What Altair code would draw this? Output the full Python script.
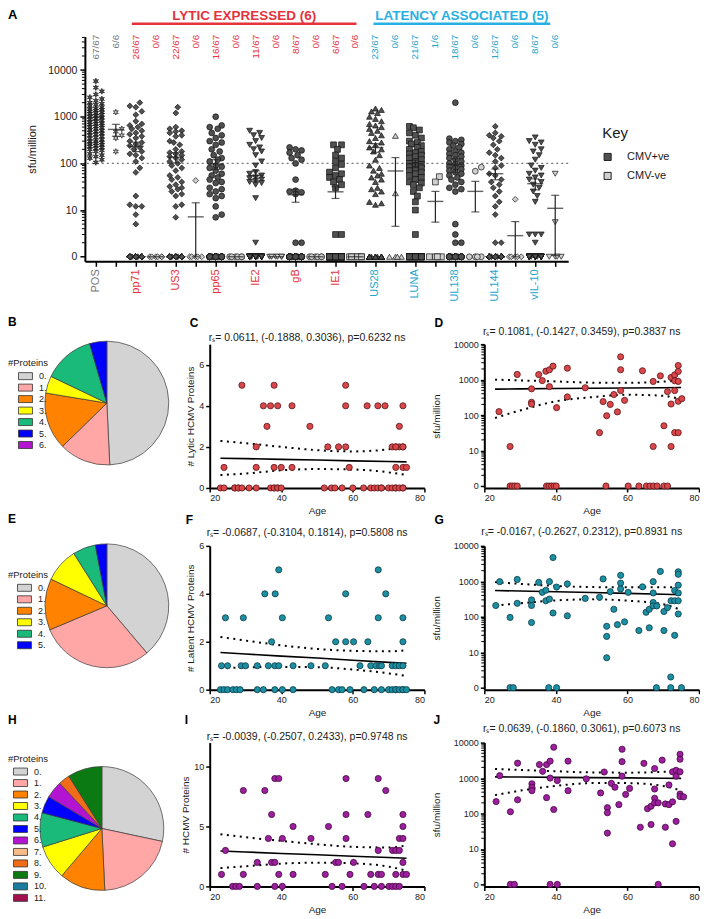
import math
import numpy as np
import pandas as pd
import altair as alt

FONT = "Liberation Sans"
INK = "#1a1a1a"
RED = "#e5323b"
CYAN = "#1ea6cc"
CYAN_HEAD = "#27b0e2"
GREY_LAB = "#777777"

# ---------------- Panel A : responses per antigen ----------------
ANTIGENS = ["POS", "pp71", "US3", "pp65", "IE2", "gB", "IE1", "US28", "LUNA", "UL138", "UL144", "vIL-10"]
ANTIGEN_COLOR = [GREY_LAB] + [RED] * 6 + [CYAN] * 5
RATIO_CMV_POS = ["67/67", "26/67", "22/67", "16/67", "11/67", "8/67", "6/67", "23/67", "21/67", "18/67", "12/67", "8/67"]
RATIO_CMV_NEG = ["6/6", "0/6", "0/6", "0/6", "0/6", "0/6", "0/6", "0/6", "1/6", "0/6", "0/6", "0/6"]

# non-zero responses (sfu/million), CMV+ve donors
POS_P = [5800, 4200, 3500, 3000, 2600, 2400, 2200, 2000, 1900, 1800, 1700, 1600, 1500, 1450, 1400, 1350,
         1300, 1250, 1200, 1150, 1100, 1050, 1000, 950, 900, 870, 840, 800, 760, 720, 700, 680, 650, 620,
         600, 580, 550, 520, 500, 480, 460, 440, 420, 400, 380, 360, 340, 320, 300, 290, 280, 270, 260,
         250, 240, 230, 220, 210, 200, 190, 180, 160, 150, 140, 130, 120, 105]
PP71_P = [2000, 1700, 1600, 1300, 1100, 800, 700, 650, 600, 550, 500, 450, 420, 380, 350, 300, 280, 260,
          240, 220, 200, 180, 160, 150, 130, 110, 80, 64, 20, 13, 12, 12, 8, 5]
US3_P = [1600, 1200, 600, 550, 500, 480, 450, 400, 380, 300, 280, 250, 200, 180, 170, 160, 150, 140, 130,
         120, 110, 100, 90, 80, 70, 55, 50, 45, 40, 35, 32, 30, 28, 25, 22, 20, 13, 12, 7]
PP65_P = [1000, 650, 600, 550, 450, 400, 350, 300, 280, 250, 200, 180, 150, 130, 120, 110, 90, 85, 80, 70,
          60, 55, 50, 45, 40, 38, 30, 28, 25, 22, 20, 18, 12, 8, 7]
IE2_P = [500, 450, 400, 350, 300, 250, 220, 200, 180, 150, 110, 90, 65, 60, 55, 50, 48, 45, 42, 40, 38, 35, 18, 2]
GB_P = [220, 200, 190, 170, 150, 130, 120, 100, 45, 26, 25, 24, 22, 2, 2]
IE1_P = [250, 250, 200, 150, 130, 110, 95, 80, 65, 60, 55, 50, 45, 40, 35, 30, 3, 3]
US28_P = [1500, 1400, 1300, 1200, 1000, 900, 800, 700, 650, 600, 550, 500, 450, 400, 350, 300, 280, 250,
          220, 200, 180, 150, 120, 90, 80, 70, 60, 55, 50, 45, 40, 30, 28, 25, 22, 15, 14, 13]
LUNA_P = [620, 580, 520, 450, 400, 350, 300, 280, 260, 240, 220, 200, 180, 170, 160, 150, 140, 130, 120,
          110, 100, 95, 90, 85, 80, 75, 70, 65, 60, 55, 50, 45, 40, 38, 35, 30, 25, 20, 15, 10, 3]
UL138_P = [2000, 340, 320, 300, 280, 260, 240, 220, 200, 180, 170, 160, 150, 140, 130, 120, 110, 100, 95,
           90, 85, 80, 75, 70, 65, 60, 55, 50, 45, 40, 35, 30, 28, 25, 5, 3, 2, 2]
UL144_P = [620, 450, 400, 380, 350, 300, 250, 200, 170, 150, 130, 110, 90, 80, 60, 55, 45, 40, 35, 30, 25,
           20, 15, 12, 8, 2, 2]
VIL10_P = [360, 300, 280, 250, 200, 180, 150, 120, 90, 80, 70, 60, 55, 50, 45, 40, 35, 30, 25, 20, 15, 3, 3, 3, 2]
ZEROS_P = [0, 33, 28, 32, 43, 52, 49, 29, 26, 29, 40, 42]

# non-zero responses, CMV-ve donors
POS_N = [1250, 550, 480, 400, 350, 180]
PP71_N, US3_N, PP65_N, IE2_N, GB_N, IE1_N = [], [43], [], [], [], []
US28_N, LUNA_N, UL138_N, UL144_N, VIL10_N = [390, 23], [52, 40], [83, 68], [17], [60, 5.5]
ZEROS_N = [0, 6, 5, 6, 6, 6, 6, 4, 4, 4, 5, 4]

HEADERS = ["LYTIC EXPRESSED (6)", "LATENCY ASSOCIATED (5)"]
HEADER_FROM = [1.8, 13.9]
HEADER_TO = [13.05, 22.75]
HEADER_COLOR = [RED, CYAN_HEAD]

NONZERO_P = [POS_P, PP71_P, US3_P, PP65_P, IE2_P, GB_P, IE1_P, US28_P, LUNA_P, UL138_P, UL144_P, VIL10_P]
NONZERO_N = [POS_N, PP71_N, US3_N, PP65_N, IE2_N, GB_N, IE1_N, US28_N, LUNA_N, UL138_N, UL144_N, VIL10_N]


def star_path(n=6, r_in=0.42):
    pts = []
    for i in range(2 * n):
        r = 1.0 if i % 2 == 0 else r_in
        a = math.pi * i / n - math.pi / 2
        pts.append(f"{r * math.cos(a):.3f},{r * math.sin(a):.3f}")
    return "M" + "L".join(pts) + "Z"


SHAPES = [star_path(), "diamond", "diamond", "circle", "triangle-down", "circle", "square",
          "triangle-up", "square", "circle", "diamond", "triangle-down"]


def swarm(vals, px_dec=47.0, px_unit=20.0, d=6.0, step=0.1, nmax=3):
    ys = [math.log10(v) * px_dec for v in vals]
    order = sorted(range(len(ys)), key=lambda i: ys[i])
    cand = [0.0]
    for j in range(1, nmax + 1):
        cand += [j * step, -j * step]
    placed, offs = [], [0.0] * len(ys)
    for i in order:
        y = ys[i]
        best, best_cost, best_c = None, None, 0.0
        for c in cand:
            cost = 0.0
            for py, po in placed:
                dy = y - py
                if abs(dy) >= d:
                    continue
                dist = math.hypot((c - po) * px_unit, dy)
                if dist < d:
                    cost += d - dist
            if cost == 0:
                best = c
                break
            if best_cost is None or cost < best_cost:
                best_cost, best_c = cost, c
        if best is None:
            best = best_c
        offs[i] = best
        placed.append((y, best))
    return offs


pts_rows, stat_rows, lab_rows, ratio_rows = [], [], [], []
for k, name in enumerate(ANTIGENS):
    for j, (vals, nz, grp, ratio) in enumerate(((NONZERO_P[k], ZEROS_P[k], "CMV+ve", RATIO_CMV_POS[k]),
                                               (NONZERO_N[k], ZEROS_N[k], "CMV-ve", RATIO_CMV_NEG[k]))):
        idx = 2 * k + j
        allv = list(vals) + [0.0] * nz
        yv = [max(v, 1.0) for v in allv]
        for v, o in zip(yv, swarm(yv)):
            pts_rows.append({"x": idx + o, "y": v, "grp": grp, "shape": SHAPES[k]})
        arr = np.array(allv, float)
        m = arr.mean()
        se = arr.std(ddof=1) / math.sqrt(len(arr))
        stat_rows.append({"x": idx, "m": max(m, 1.0), "lo": max(m - se, 1.0), "hi": max(m + se, 1.0), "has": bool(se > 0)})
        ratio_rows.append({"x": idx, "t": ratio, "c": ANTIGEN_COLOR[k]})
    lab_rows.append({"x": 2 * k, "t": name, "c": ANTIGEN_COLOR[k]})

dfA = pd.DataFrame(pts_rows)
dfStat = pd.DataFrame(stat_rows)
dfStatBars = dfStat[dfStat["has"]]
dfLab = pd.DataFrame(lab_rows)
dfRatio = pd.DataFrame(ratio_rows)
dfHead = pd.DataFrame({"x1": HEADER_FROM, "x2": HEADER_TO,
                       "xc": [(a + b) / 2 for a, b in zip(HEADER_FROM, HEADER_TO)],
                       "t": HEADERS, "c": HEADER_COLOR})
dfThr = pd.DataFrame({"y": [100]})
MINOR_A = [k * 10 ** e for e in range(0, 5) for k in range(2, 10) if k * 10 ** e <= 52000]

WA, HA = 484, 225
xA = alt.Scale(domain=[-0.55, 23.65], nice=False, zero=False)
yA = alt.Scale(type="log", domain=[0.8, 52000], nice=False)
AXA_X = alt.Axis(values=list(range(24)), labels=False, title=None, tickSize=5, grid=False)
AXA_Y = alt.Axis(values=[1, 10, 100, 1000, 10000],
                 labelExpr="datum.value == 1 ? '0' : format(datum.value, 'd')",
                 title="sfu/million", titlePadding=10, labelFontSize=10.5, titleFontSize=11,
                 tickSize=5, labelPadding=3, grid=False)


def XA(f):
    return alt.X(f"{f}:Q", scale=xA, axis=AXA_X)


def YA(f):
    return alt.Y(f"{f}:Q", scale=yA, axis=AXA_Y)


a_thr = alt.Chart(dfThr).mark_rule(color="#777777", strokeWidth=1.3, strokeDash=[2, 3]).encode(y=YA("y"))
a_minor = alt.Chart(pd.DataFrame({"y": MINOR_A})).mark_rule(color="black", strokeWidth=1).encode(
    y=YA("y"), x=alt.value(-3), x2=alt.value(0))
a_pts = alt.Chart(dfA).mark_point(filled=True, size=34, stroke="#111111", strokeWidth=0.7, opacity=1).encode(
    x=XA("x"), y=YA("y"),
    shape=alt.Shape("shape:N", scale=None),
    fill=alt.Fill("grp:N", scale=alt.Scale(domain=["CMV+ve", "CMV-ve"], range=["#505050", "#cfcfcf"]),
                  legend=alt.Legend(title="Key", orient="none", legendX=518, legendY=90,
                                    symbolType="square", symbolSize=50, symbolStrokeColor="#222222",
                                    symbolStrokeWidth=1, titleFontSize=15, titleFontWeight="normal",
                                    titleColor=INK, labelFontSize=11, labelColor=INK, titlePadding=10,
                                    rowPadding=6, labelOffset=14, padding=0)))
a_mean = alt.Chart(dfStat).mark_tick(orient="horizontal", size=16, thickness=1.4, color="#222222").encode(
    x=XA("x"), y=YA("m"))
a_bar = alt.Chart(dfStatBars).mark_rule(color="#222222", strokeWidth=1.2).encode(
    x=XA("x"), y=YA("lo"), y2=alt.Y2("hi"))
a_cap_lo = alt.Chart(dfStatBars).mark_tick(orient="horizontal", size=8, thickness=1.2, color="#222222").encode(
    x=XA("x"), y=YA("lo"))
a_cap_hi = alt.Chart(dfStatBars).mark_tick(orient="horizontal", size=8, thickness=1.2, color="#222222").encode(
    x=XA("x"), y=YA("hi"))
a_lab = alt.Chart(dfLab).mark_text(angle=270, align="right", baseline="middle", fontSize=11).encode(
    x=XA("x"), y=alt.value(HA + 8), text="t:N", color=alt.Color("c:N", scale=None))
a_ratio = alt.Chart(dfRatio).mark_text(angle=270, align="right", baseline="middle", fontSize=10).encode(
    x=XA("x"), y=alt.value(-2), text="t:N", color=alt.Color("c:N", scale=None))
a_hrule = alt.Chart(dfHead).mark_rule(strokeWidth=2.5).encode(
    x=XA("x1"), x2=alt.X2("x2"), y=alt.value(-13), color=alt.Color("c:N", scale=None))
a_htext = alt.Chart(dfHead).mark_text(fontSize=13.5, fontWeight="bold", baseline="middle").encode(
    x=XA("xc"), y=alt.value(-21), text="t:N", color=alt.Color("c:N", scale=None))

rowA = alt.layer(a_thr, a_minor, a_pts, a_bar, a_cap_lo, a_cap_hi, a_mean, a_lab, a_ratio, a_hrule, a_htext).properties(
    width=WA, height=HA,
    title=alt.TitleParams("A", anchor="start", frame="group", dx=-77, dy=13, offset=0,
                          fontSize=13, fontWeight="bold", color="black"))

# ---------------- Panels B-J : number of proteins / sfu vs age ----------------
PIE_COLORS = ["#d3d3d3", "#ffa6a6", "#ff8200", "#ffff00", "#1aba7a", "#0000ff", "#b214d2",
              "#f6bb88", "#f06c18", "#0b7a12", "#1a7d9e", "#a0104f"]
B_COUNTS = [33, 9, 10, 3, 9, 3, 0]
E_COUNTS = [26, 20, 9, 6, 4, 2]
H_COUNTS = [19, 14, 8, 6, 6, 3, 3, 0, 2, 6, 0, 0]

C_AGES_BY_COUNT = {
    0: [23, 24, 27, 27, 28, 28, 29, 31, 33, 37, 38, 38, 39, 39, 40, 52, 54, 55, 57, 60, 63, 65, 66, 67, 68, 68,
        70, 71, 72, 72, 73, 74, 74],
    1: [24, 33, 38, 40, 43, 59, 72, 74, 75],
    2: [33, 53, 56, 58, 71, 72, 73, 74, 72, 74],
    3: [36, 48, 73],
    4: [35, 37, 39, 43, 58, 64, 67, 69, 74],
    5: [29, 38, 58],
}
F_AGES_BY_COUNT = {
    0: [23, 24, 25, 26.5, 27.5, 28.5, 33.3, 35, 38.2, 40.3, 43.3, 54.2, 56, 57, 59.2, 63.1, 66, 68, 70, 71, 72,
        72, 73, 74, 74, 75],
    1: [23.3, 25, 28.8, 30, 33.3, 36.4, 38.2, 39.3, 43.3, 48.3, 52.3, 62, 65, 66.5, 67.5, 68, 71, 72, 73, 74],
    2: [37.3, 55.2, 58, 60.2, 64.2, 74],
    3: [24.4, 29.4, 40.3, 53.2, 67.1, 74],
    4: [35.4, 38.3, 58, 69.2],
    5: [39.3, 67.1],
}
I_AGES_BY_COUNT = {
    0: [26.4, 27.3, 28.3, 33.3, 38.2, 40.3, 54.2, 57, 63.1, 66, 68, 70.1, 71.1, 72, 73],
    1: [23.3, 29.4, 39.3, 43.3, 52.3, 59.2, 65, 67.1, 68, 72, 74, 75],
    2: [33.3, 37.3, 38.2, 55.2, 56, 60.2, 74],
    3: [24.4, 67.1, 71.1, 72, 73],
    4: [36.4, 40.3, 48.3, 58.1, 73, 74],
    5: [43.3, 53.2, 74],
    6: [37.3, 58.1, 64.2, 74],
    8: [29.4, 35.4, 69.2],
    9: [38.2, 39.3, 58.1, 67.1],
}

D_POINTS = [(24.1, 125), (27.2, 13), (29.2, 1400), (33.2, 550), (33.2, 230), (33.2, 205), (35.2, 1390),
            (36.2, 940), (37.2, 1730), (38.2, 1900), (38.2, 635), (39.2, 2400), (40.2, 162), (43.2, 2100),
            (43.2, 325), (48.2, 590), (52.2, 32), (53.2, 240), (54.2, 96), (55.2, 200), (56.2, 380),
            (57.2, 123), (58.1, 4400), (58.1, 1900), (58.1, 490), (59.2, 260), (64.2, 1780), (67.2, 890),
            (67.2, 13), (69.2, 1280), (70.2, 50), (71.2, 460), (72.2, 1150), (72.2, 205), (72.2, 13),
            (73.2, 1360), (73.2, 930), (73.2, 490), (73.2, 32), (74.2, 2500), (74.2, 1700), (74.2, 890),
            (74.2, 245), (74.2, 32), (75.2, 290)]
D_ZERO_AGES = [27.2, 27.8, 28.5, 29.2, 37.4, 38.1, 38.8, 39.5, 40.1, 54, 60.2, 63.2, 65.3, 66.3, 67.3, 68.3, 70.2, 71.2]

G_POINTS = [(23.2, 208), (24.3, 980), (27.2, 96), (29.2, 1130), (29.2, 240), (33.2, 300), (33.2, 208),
            (33.2, 69), (35.2, 930), (36.2, 490), (37.2, 283), (37.2, 560), (38.2, 980), (38.2, 316),
            (39.2, 4700), (39.2, 128), (40.2, 690), (43.2, 850), (43.2, 107), (48.2, 330), (52.2, 355),
            (53.2, 1170), (54.2, 54), (54.2, 28), (54.2, 7), (55.2, 510), (56.2, 163), (57.2, 60),
            (58.1, 1480), (58.1, 890), (58.1, 610), (59.2, 72), (60.2, 490), (63.2, 41), (64.2, 700),
            (65.2, 134), (66.1, 49), (66.1, 163), (67.2, 980), (67.2, 470), (67.2, 253), (67.2, 203),
            (68.2, 203), (69.2, 1900), (70.2, 141), (70.2, 41), (71.2, 182), (72.2, 283), (73.2, 550),
            (73.2, 283), (73.2, 30), (74.2, 1860), (74.2, 1580), (74.2, 780), (74.2, 470), (74.2, 283),
            (74.2, 120), (72.1, 2)]
G_ZERO_AGES = [27.2, 28.1, 38.0, 40.2, 68.1, 72.1, 75.1]

J_POINTS = [(23.3, 217), (24.3, 1170), (27.3, 112), (29.3, 2630), (29.3, 244), (33.3, 690), (33.3, 550),
            (33.3, 440), (35.4, 2400), (36.3, 1550), (37.4, 2400), (37.4, 280), (38.4, 3000), (38.4, 1000),
            (39.4, 7400), (39.4, 130), (40.4, 850), (43.4, 3000), (43.4, 440), (48.5, 950), (52.5, 380),
            (53.5, 1480), (54.4, 146), (54.4, 105), (54.4, 28), (55.5, 710), (56.5, 550), (57.6, 178),
            (58.5, 6500), (58.5, 2900), (58.5, 1130), (59.5, 345), (60.6, 510), (63.6, 41), (64.6, 2600),
            (65.6, 137), (66.6, 160), (66.6, 49), (67.6, 1860), (67.6, 490), (67.6, 270), (67.6, 200),
            (68.6, 200), (69.7, 3200), (70.6, 186), (70.6, 41), (71.6, 178), (71.6, 640), (72.6, 14),
            (72.6, 213), (72.6, 1500), (73.6, 60), (73.6, 1650), (73.6, 1130), (74.7, 4700), (74.7, 3400),
            (74.7, 1500), (74.7, 355), (74.7, 300), (75.7, 295)]
J_ZERO_AGES = [27.3, 28.4, 38.4, 40.4, 68.6]

FIT_AGE = [23, 30, 40, 50, 60, 70, 75]
C_FIT = [1.45, 1.43, 1.39, 1.36, 1.32, 1.29, 1.27]
C_UPPER = [2.29, 2.18, 2.0, 1.84, 1.78, 1.88, 2.0]
C_LOWER = [0.63, 0.70, 0.86, 0.92, 0.90, 0.76, 0.63]
D_FIT = [540, 548, 560, 570, 580, 592, 600]
D_UPPER = [1000, 950, 890, 820, 810, 880, 940]
D_LOWER = [83, 135, 245, 320, 375, 350, 275]
F_FIT = [1.55, 1.49, 1.40, 1.32, 1.23, 1.14, 1.10]
F_UPPER = [2.2, 2.05, 1.85, 1.70, 1.62, 1.60, 1.64]
F_LOWER = [0.9, 0.93, 0.95, 0.94, 0.84, 0.68, 0.57]
G_FIT = [550, 532, 508, 483, 458, 433, 420]
G_UPPER = [950, 850, 740, 690, 680, 680, 700]
G_LOWER = [208, 240, 290, 310, 285, 225, 155]
I_FIT = [2.95, 2.87, 2.75, 2.64, 2.52, 2.41, 2.35]
I_UPPER = [4.36, 4.1, 3.8, 3.52, 3.3, 3.25, 3.4]
I_LOWER = [1.53, 1.68, 1.9, 1.98, 1.92, 1.65, 1.31]
J_FIT = [1080, 1066, 1047, 1028, 1009, 990, 980]
J_UPPER = [1800, 1700, 1560, 1440, 1420, 1500, 1600]
J_LOWER = [330, 440, 600, 720, 720, 600, 440]

RS_C = "r\u209b= 0.0611, (-0.1888, 0.3036), p=0.6232 ns"
RS_D = "r\u209b= 0.1081, (-0.1427, 0.3459), p=0.3837 ns"
RS_F = "r\u209b= -0.0687, (-0.3104, 0.1814), p=0.5808 ns"
RS_G = "r\u209b= -0.0167, (-0.2627, 0.2312), p=0.8931 ns"
RS_I = "r\u209b= -0.0039, (-0.2507, 0.2433), p=0.9748 ns"
RS_J = "r\u209b= 0.0639, (-0.1860, 0.3061), p=0.6073 ns"

LYTIC = ("#d9474b", "#5c1517")
LATENT = ("#1c8fa3", "#0c3c47")
TOTAL = ("#9c1f9e", "#44093f")

W, H = 215, 144
MINOR_LOG = [k * 10 ** e for e in range(0, 4) for k in range(2, 10)]
RECT = "M-1.4,-0.7H1.4V0.7H-1.4Z"


def letter(t, dx, dy):
    return alt.TitleParams(t, anchor="start", frame="group", dx=dx, dy=dy, offset=0,
                           fontSize=12, fontWeight="bold", color="black")


def pie_panel(counts, t, wp, hp, ldy, sym_off, dy):
    n = len(counts)
    dom = [str(i) for i in range(n)]
    df = pd.DataFrame({"k": list(range(n)), "cls": dom, "c": counts})
    return alt.Chart(df).transform_filter("datum.c > 0").mark_arc(
        outerRadius=62, stroke="#3a3a3a", strokeWidth=0.7).encode(
        theta=alt.Theta("c:Q", stack=True),
        order=alt.Order("k:Q", sort="ascending"),
        color=alt.Color("cls:N", scale=alt.Scale(domain=dom, range=PIE_COLORS[:n]),
                        legend=alt.Legend(title="#Proteins", orient="none", legendX=-77, legendY=ldy,
                                          titleFontSize=9.5, titleFontWeight="normal", titleColor=INK,
                                          titlePadding=3, labelFontSize=9, labelColor=INK,
                                          labelExpr="datum.label + '.'", symbolType=RECT, symbolSize=100,
                                          symbolStrokeColor="#333333", symbolStrokeWidth=0.8,
                                          symbolOpacity=1, symbolOffset=sym_off, labelOffset=8,
                                          rowPadding=0.5, padding=0)),
    ).properties(width=wp, height=hp, title=letter(t, -77, dy))


AGE_AXIS = alt.Axis(values=[20, 40, 60, 80], title="Age", titlePadding=3, tickSize=4, labelPadding=2,
                    labelFontSize=9, titleFontSize=10, grid=False, format="d")


def scatter_panel(pts, fit, up, lo, yscale, yaxis, colors, t, ldx, ldy, rs, rs_dy, minor=None):
    xs = alt.Scale(domain=[20, 80], nice=False, zero=False)
    X = alt.X("age:Q", scale=xs, axis=AGE_AXIS)

    def Y(f):
        return alt.Y(f"{f}:Q", scale=yscale, axis=yaxis)

    fitdf = pd.DataFrame({"age": FIT_AGE, "fit": fit, "up": up, "lo": lo})
    layers = []
    if minor is not None:
        layers.append(alt.Chart(pd.DataFrame({"m": minor})).mark_rule(color="black", strokeWidth=1).encode(
            y=Y("m"), x=alt.value(-3), x2=alt.value(0)))
    layers += [
        alt.Chart(fitdf).mark_line(color="black", strokeWidth=1.6).encode(x=X, y=Y("fit")),
        alt.Chart(fitdf).mark_line(color="black", strokeWidth=2, strokeDash=[2, 4.5],
                                   interpolate="monotone").encode(x=X, y=Y("up")),
        alt.Chart(fitdf).mark_line(color="black", strokeWidth=2, strokeDash=[2, 4.5],
                                   interpolate="monotone").encode(x=X, y=Y("lo")),
        alt.Chart(pts).mark_circle(size=38, color=colors[0], fill=colors[0], stroke=colors[1],
                                   strokeWidth=0.8, opacity=1).encode(x=X, y=Y("v")),
        alt.Chart(pd.DataFrame({"t": [rs]})).mark_text(fontSize=10.5, baseline="middle", align="center",
                                                        color=INK).encode(
            x=alt.value(W / 2 - 10), y=alt.value(rs_dy), text="t:N"),
    ]
    return alt.layer(*layers).properties(width=W, height=H, title=letter(t, ldx, ldy))


def count_df(levels):
    return pd.DataFrame([{"age": a, "v": k} for k, ages in levels.items() for a in ages])


def sfu_df(points, zeros):
    return pd.DataFrame([{"age": a, "v": max(v, 1.0)} for a, v in points] + [{"age": a, "v": 1.0} for a in zeros])


def count_axis(vals, title):
    return alt.Axis(values=vals, title=title, titlePadding=3, tickSize=4, labelPadding=2,
                    labelFontSize=9, titleFontSize=10, grid=False)


LOG_SCALE = alt.Scale(type="log", domain=[0.88, 10000], nice=False)
LOG_AXIS = alt.Axis(values=[1, 10, 100, 1000, 10000],
                    labelExpr="datum.value == 1 ? '0' : format(datum.value, 'd')",
                    title="sfu/million", titlePadding=12, tickSize=4, labelPadding=2,
                    labelFontSize=9, titleFontSize=10, grid=False)

pB = pie_panel(B_COUNTS, "B", 44, 118, 14, 12, -11)
pC = scatter_panel(count_df(C_AGES_BY_COUNT), C_FIT, C_UPPER, C_LOWER,
                   alt.Scale(domain=[0, 7], nice=False), count_axis([0, 2, 4, 6], "# Lytic HCMV Proteins"),
                   LYTIC, "C", -20, -3, RS_C, -6)
pD = scatter_panel(sfu_df(D_POINTS, D_ZERO_AGES), D_FIT, D_UPPER, D_LOWER, LOG_SCALE, LOG_AXIS,
                   LYTIC, "D", -50, 3, RS_D, -12, MINOR_LOG)

pE = pie_panel(E_COUNTS, "E", 44, 120, 24, 11, -17)
pF = scatter_panel(count_df(F_AGES_BY_COUNT), F_FIT, F_UPPER, F_LOWER,
                   alt.Scale(domain=[0, 6], nice=False), count_axis([0, 2, 4, 6], "# Latent HCMV Proteins"),
                   LATENT, "F", -24, -1, RS_F, -13)
pG = scatter_panel(sfu_df(G_POINTS, G_ZERO_AGES), G_FIT, G_UPPER, G_LOWER, LOG_SCALE, LOG_AXIS,
                   LATENT, "G", -50, 0, RS_G, -14, MINOR_LOG)

pH = pie_panel(H_COUNTS, "H", 34, 172, 11, 7, -16)
pI = scatter_panel(count_df(I_AGES_BY_COUNT), I_FIT, I_UPPER, I_LOWER,
                   alt.Scale(domain=[0, 12], nice=False), count_axis([0, 5, 10], "# HCMV Proteins"),
                   TOTAL, "I", -25, -5, RS_I, -6)
pJ = scatter_panel(sfu_df(J_POINTS, J_ZERO_AGES), J_FIT, J_UPPER, J_LOWER, LOG_SCALE, LOG_AXIS,
                   TOTAL, "J", -51, 3, RS_J, -14, MINOR_LOG)

row1 = alt.hconcat(pB, alt.hconcat(pC, pD, spacing=5), spacing=14)
row2 = alt.hconcat(pE, alt.hconcat(pF, pG, spacing=5), spacing=14)
row3 = alt.hconcat(pH, alt.hconcat(pI, pJ, spacing=5), spacing=14)
rows = alt.vconcat(row1, row2, row3, spacing=-4).resolve_scale(color="independent")

chart = alt.vconcat(rowA, rows, spacing=13).resolve_scale(color="independent").properties(
    padding=0).configure(font=FONT).configure_view(stroke=None).configure_axis(
    domainColor="black", domainWidth=2, tickColor="black", tickWidth=1.5,
    labelColor=INK, titleColor=INK, labelFont=FONT, titleFont=FONT, titleFontWeight="normal", grid=False
).configure_title(font=FONT).configure_legend(labelFont=FONT, titleFont=FONT)

chart.save("out.html", embed_options={"renderer": "svg", "actions": False})
